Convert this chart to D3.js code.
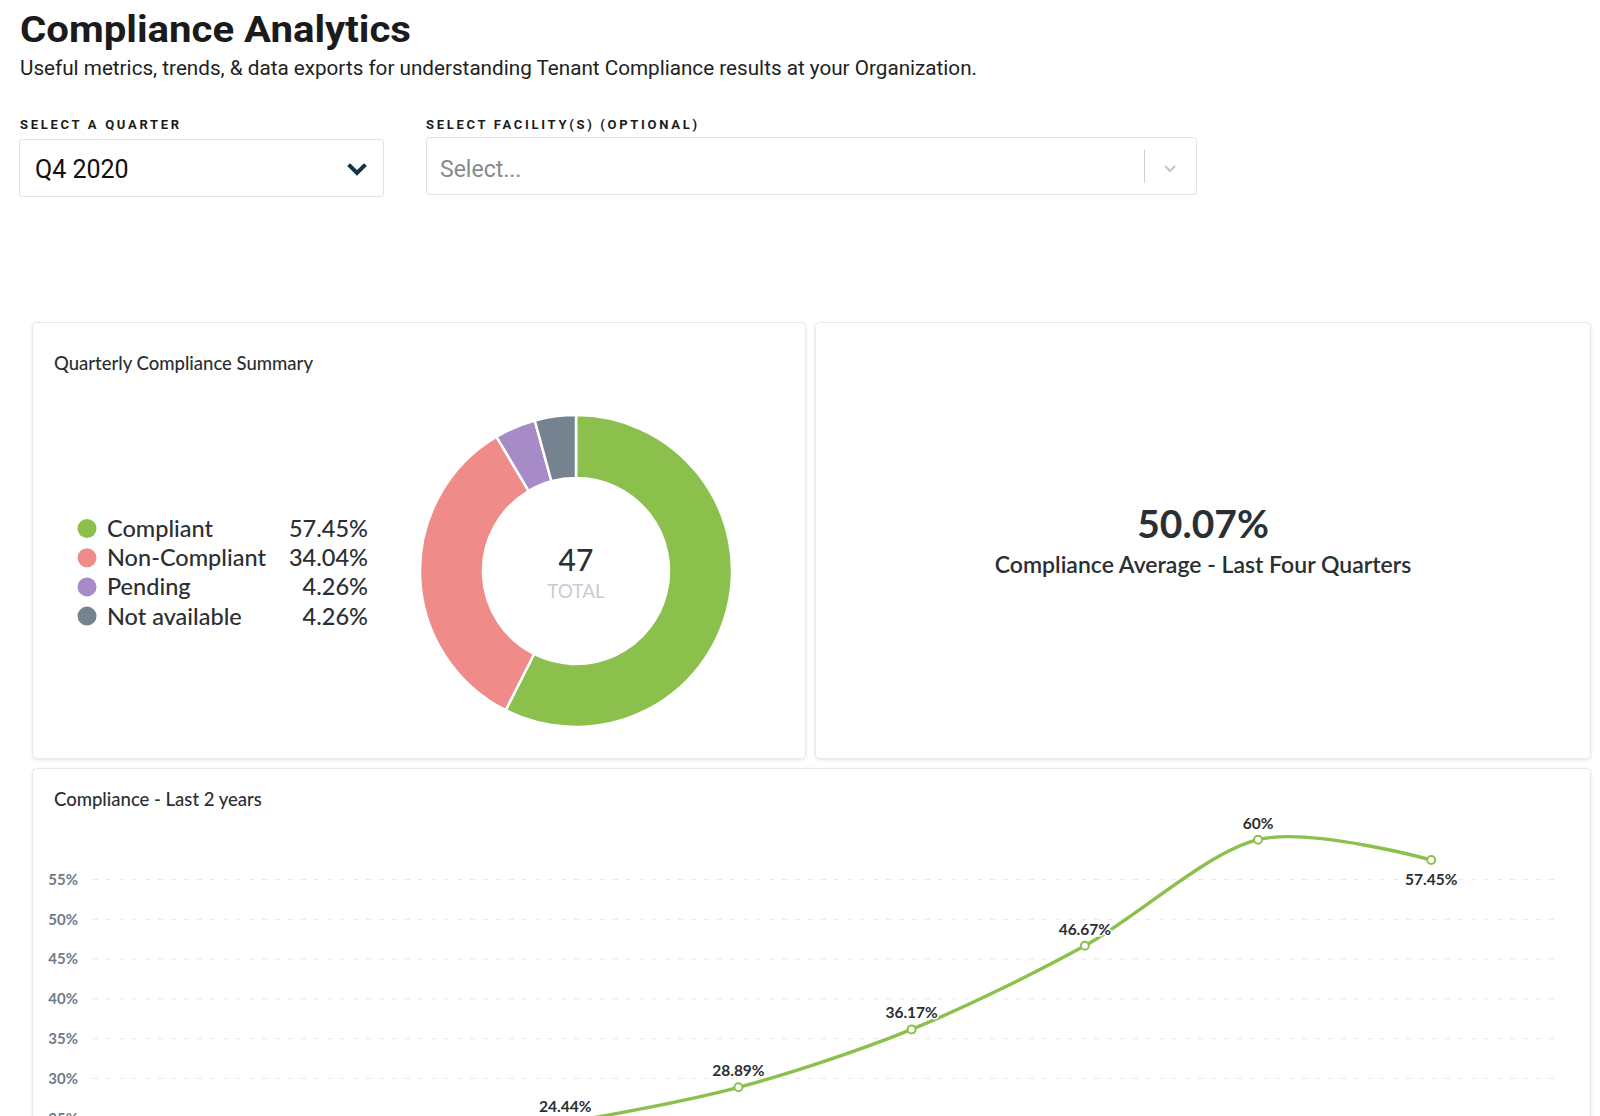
<!DOCTYPE html>
<html>
<head>
<meta charset="utf-8">
<script src="https://cdn.jsdelivr.net/npm/d3@7"></script>
<style>
  html, body { margin: 0; padding: 0; background: #fff; overflow: hidden; }
  svg { display: block; }
</style>
</head>
<body>
<script>
// donut data (Q4 2020)
const statusNames = ["Compliant", "Non-Compliant", "Pending", "Not available"];
const statusCounts = [27, 16, 2, 2];
const statusColors = ["#8bc04c", "#ef8b88", "#a78bc7", "#758391"];

// line chart data
const quarters = ["Q1 2019", "Q2 2019", "Q3 2019", "Q4 2019", "Q1 2020", "Q2 2020", "Q3 2020", "Q4 2020"];
const compliance = [18.6, 21.28, 24.44, 28.89, 36.17, 46.67, 60, 57.45];
const yTicks = [0, 5, 10, 15, 20, 25, 30, 35, 40, 45, 50, 55];

const average = "50.07%";

const W = 1600, H = 1116;
const svg = d3.select("body").append("svg")
    .attr("width", W)
    .attr("height", H);

const defs = svg.append("defs");
const shadow = defs.append("filter").attr("id", "shadow")
    .attr("x", -0.05).attr("y", -0.05).attr("width", 1.1).attr("height", 1.1);
shadow.append("feDropShadow")
    .attr("dx", 0).attr("dy", 1).attr("stdDeviation", 1.5)
    .attr("flood-color", "#000").attr("flood-opacity", 0.10);

// ---- header ----
svg.append("text")
    .attr("x", 20).attr("y", 42)
    .attr("textLength", 391).attr("lengthAdjust", "spacingAndGlyphs")
    .style("font-family", "Roboto, 'Liberation Sans', sans-serif")
    .style("font-weight", 700)
    .style("font-size", "37px")
    .style("fill", "#1b1b1b")
    .text("Compliance Analytics");

svg.append("text")
    .attr("x", 20).attr("y", 75)
    .attr("textLength", 957).attr("lengthAdjust", "spacingAndGlyphs")
    .style("font-family", "Roboto, 'Liberation Sans', sans-serif")
    .style("font-size", "20px")
    .style("fill", "#222")
    .text("Useful metrics, trends, & data exports for understanding Tenant Compliance results at your Organization.");

const labelStyle = sel => sel
    .style("font-family", "Roboto, 'Liberation Sans', sans-serif")
    .style("font-weight", 700)
    .style("font-size", "13px")
    .style("letter-spacing", "2.7px")
    .style("fill", "#1b1b1b");

svg.append("text").attr("x", 20).attr("y", 129)
    .call(labelStyle).text("SELECT A QUARTER");
svg.append("text").attr("x", 426).attr("y", 129)
    .call(labelStyle).text("SELECT FACILITY(S) (OPTIONAL)");

// dropdowns
svg.append("rect")
    .attr("x", 19.5).attr("y", 139.5).attr("width", 364).attr("height", 57).attr("rx", 2)
    .style("fill", "#fff").style("stroke", "#dfe2e6");
svg.append("text")
    .attr("x", 35).attr("y", 178)
    .style("font-family", "Roboto, 'Liberation Sans', sans-serif")
    .style("font-size", "25px").style("fill", "#111")
    .text("Q4 2020");
svg.append("path")
    .attr("d", "M350,166 L357,173 L364,166")
    .style("fill", "none").style("stroke", "#123545").style("stroke-width", 4)
    .style("stroke-linecap", "square");

svg.append("rect")
    .attr("x", 426.5).attr("y", 137.5).attr("width", 770).attr("height", 57).attr("rx", 3)
    .style("fill", "#fff").style("stroke", "#dfe2e6");
svg.append("text")
    .attr("x", 440).attr("y", 177)
    .style("font-family", "Roboto, 'Liberation Sans', sans-serif")
    .style("font-size", "23px").style("fill", "#8a8a8a")
    .text("Select...");
svg.append("line")
    .attr("x1", 1144.5).attr("x2", 1144.5).attr("y1", 150).attr("y2", 183)
    .style("stroke", "#cfcfcf");
svg.append("path")
    .attr("d", "M1165,166 L1170,171 L1175,166")
    .style("fill", "none").style("stroke", "#c4c4c4").style("stroke-width", 2);

// ---- cards ----
const cards = [
    {x: 32, y: 322, w: 773, h: 436},
    {x: 815, y: 322, w: 775, h: 436},
    {x: 32, y: 768, w: 1558, h: 400}
];
svg.selectAll("rect.card")
    .data(cards)
    .enter().append("rect")
    .attr("class", "card")
    .attr("x", d => d.x + 0.5).attr("y", d => d.y + 0.5)
    .attr("width", d => d.w).attr("height", d => d.h)
    .attr("rx", 4)
    .style("fill", "#fff").style("stroke", "#e9e9e9")
    .attr("filter", "url(#shadow)");

const cardTitle = (x, y, t) => svg.append("text")
    .attr("x", x).attr("y", y)
    .style("font-family", "Lato, sans-serif")
    .style("font-weight", 500)
    .style("font-size", "18.5px")
    .style("fill", "#2b2f33")
    .text(t);

cardTitle(54, 370, "Quarterly Compliance Summary");
cardTitle(54, 806, "Compliance - Last 2 years");

// ---- donut ----
const total = d3.sum(statusCounts);
const color = d3.scaleOrdinal().domain(statusNames).range(statusColors);
const pie = d3.pie().sort(null).value(d => d.count);
const arc = d3.arc().innerRadius(93).outerRadius(156);
const slices = statusNames.map((n, i) => ({name: n, count: statusCounts[i]}));

const donut = svg.append("g").attr("transform", "translate(576,571)");
donut.selectAll("path")
    .data(pie(slices))
    .enter().append("path")
    .attr("d", arc)
    .style("fill", d => color(d.data.name))
    .style("stroke", "#fff")
    .style("stroke-width", 2.5);

donut.append("text")
    .attr("y", 0)
    .attr("text-anchor", "middle")
    .style("font-family", "Lato, sans-serif")
    .style("font-weight", 500)
    .style("font-size", "30px")
    .style("fill", "#2b2f33")
    .text(total);
donut.append("text")
    .attr("y", 27)
    .attr("text-anchor", "middle")
    .style("font-family", "Lato, sans-serif")
    .style("font-size", "19px")
    .style("fill", "#c6cdd4")
    .text("TOTAL");

// legend
const pct = d3.format(".2%");
const legend = svg.append("g")
    .selectAll("g")
    .data(slices)
    .enter().append("g")
    .attr("transform", (d, i) => "translate(0," + (537 + i * 29.2) + ")");
legend.append("circle")
    .attr("cx", 87).attr("cy", -8.5).attr("r", 9.5)
    .style("fill", d => color(d.name));
legend.append("text")
    .attr("x", 107)
    .style("font-family", "Lato, sans-serif")
    .style("font-weight", 500)
    .style("font-size", "23.5px")
    .style("fill", "#2b2f33")
    .text(d => d.name);
legend.append("text")
    .attr("x", 368)
    .attr("text-anchor", "end")
    .style("font-family", "Lato, sans-serif")
    .style("font-weight", 500)
    .style("font-size", "23.5px")
    .style("fill", "#2b2f33")
    .text(d => pct(d.count / total));

// ---- average card ----
svg.append("text")
    .attr("x", 1203).attr("y", 538)
    .attr("text-anchor", "middle")
    .style("font-family", "Lato, sans-serif")
    .style("font-weight", 700)
    .style("font-size", "39px")
    .style("fill", "#2b2f33")
    .text(average);
svg.append("text")
    .attr("x", 1203).attr("y", 573)
    .attr("text-anchor", "middle")
    .style("font-family", "Lato, sans-serif")
    .style("font-weight", 600)
    .style("font-size", "23px")
    .style("fill", "#2b2f33")
    .text("Compliance Average - Last Four Quarters");

// ---- line chart ----
const plotLeft = 93, plotRight = 1557;
const x = d3.scalePoint()
    .domain(quarters)
    .range([plotLeft, plotRight])
    .padding(0.726);
const y = d3.scaleLinear()
    .domain([0, 55])
    .range([1317.3, 879.5]);

const grid = svg.append("g");
grid.selectAll("line")
    .data(yTicks)
    .enter().append("line")
    .attr("x1", plotLeft).attr("x2", plotRight)
    .attr("y1", d => y(d)).attr("y2", d => y(d))
    .style("stroke", "#e6e8ea")
    .style("stroke-dasharray", "5,8");

const yAxis = svg.append("g")
    .attr("transform", "translate(" + plotLeft + ",0)")
    .call(d3.axisLeft(y).tickValues(yTicks).tickSize(0).tickPadding(15).tickFormat(d => d + "%"));
yAxis.select(".domain").remove();
yAxis.selectAll("text")
    .style("font-family", "Lato, sans-serif")
    .style("font-weight", 700)
    .style("font-size", "15px")
    .style("fill", "#6e7b89");

const xAxis = svg.append("g")
    .attr("transform", "translate(0," + y(0) + ")")
    .call(d3.axisBottom(x).tickSize(0).tickPadding(12));
xAxis.select(".domain").remove();
xAxis.selectAll("text")
    .style("font-family", "Lato, sans-serif")
    .style("font-size", "14px")
    .style("fill", "#6e7b89");

const points = quarters.map((q, i) => ({q: q, v: compliance[i]}));
const line = d3.line()
    .x(d => x(d.q))
    .y(d => y(d.v))
    .curve(d3.curveCardinal.tension(0.1));

svg.append("path")
    .datum(points)
    .attr("d", line)
    .style("fill", "none")
    .style("stroke", "#8bc04c")
    .style("stroke-width", 3.4);

svg.append("g").selectAll("circle")
    .data(points)
    .enter().append("circle")
    .attr("cx", d => x(d.q))
    .attr("cy", d => y(d.v))
    .attr("r", 4)
    .style("fill", "#fff")
    .style("stroke", "#8bc04c")
    .style("stroke-width", 2);

svg.append("g").selectAll("text")
    .data(points)
    .enter().append("text")
    .attr("x", d => x(d.q))
    .attr("y", (d, i) => i === points.length - 1 ? y(d.v) + 25 : y(d.v) - 11)
    .attr("text-anchor", "middle")
    .style("font-family", "Lato, sans-serif")
    .style("font-weight", 700)
    .style("font-size", "15.5px")
    .style("fill", "#2b2f33")
    .style("paint-order", "stroke")
    .style("stroke", "#fff")
    .style("stroke-width", 3)
    .text(d => d.v + "%");
</script>
</body>
</html>
